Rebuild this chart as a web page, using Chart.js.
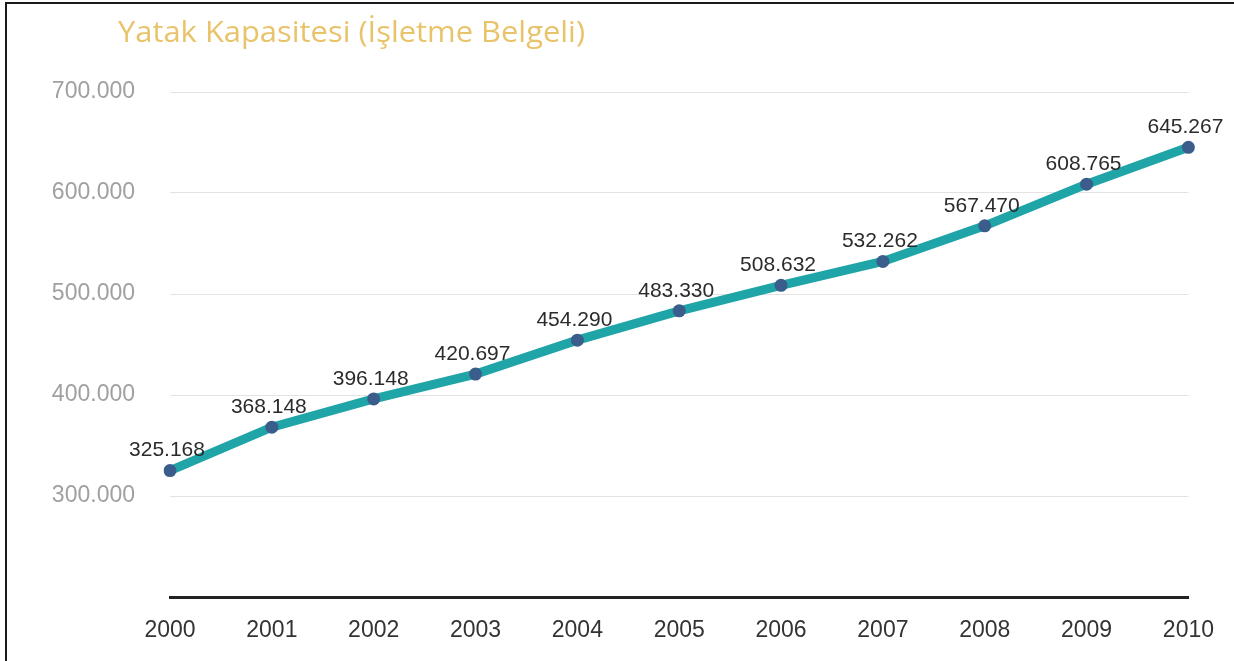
<!DOCTYPE html>
<html>
<head>
<meta charset="utf-8">
<script src="https://cdn.jsdelivr.net/npm/chart.js@4.4.1/dist/chart.umd.min.js"></script>
<style>
  html, body { margin: 0; padding: 0; background: #fff; }
  #wrap { position: relative; width: 1234px; height: 661px; overflow: hidden; }
  #frame {
    position: absolute; left: 5px; top: 2px; right: -4px; bottom: -4px;
    border-top: 2px solid #1a1a1a; border-left: 2px solid #1a1a1a;
    pointer-events: none;
  }
</style>
</head>
<body>
<div id="wrap">
  <canvas id="myChart" width="1234" height="661"></canvas>
  <div id="frame"></div>
</div>
<script>
const years = ['2000', '2001', '2002', '2003', '2004', '2005', '2006', '2007', '2008', '2009', '2010'];
const bedCapacity = [325168, 368148, 396148, 420697, 454290, 483330, 508632, 532262, 567470, 608765, 645267];
const yTicks = [200000, 300000, 400000, 500000, 600000, 700000];
const chartTitle = 'Yatak Kapasitesi (İşletme Belgeli)';

// 325168 -> "325.168"
function fmt(v) {
    return String(Math.round(v)).replace(/\B(?=(\d{3})+(?!\d))/g, '.');
}

// title sits top-left, above the y-axis labels, squeezed to a fixed width
const titlePlugin = {
    id: 'cornerTitle',
    afterDraw(chart) {
        const ctx = chart.ctx;
        ctx.save();
        ctx.font = '29px "Open Sans", sans-serif';
        ctx.fillStyle = '#e9c36a';
        ctx.textBaseline = 'alphabetic';
        const w = ctx.measureText(chartTitle).width;
        ctx.translate(118, 42);
        ctx.scale(467 / w, 1);
        ctx.fillText(chartTitle, 0, 0);
        ctx.restore();
    }
};

const valueLabels = {
    id: 'valueLabels',
    afterDatasetsDraw(chart) {
        const ctx = chart.ctx;
        const meta = chart.getDatasetMeta(0);
        ctx.save();
        ctx.font = '21px "Liberation Sans", Arial, sans-serif';
        ctx.fillStyle = '#2b2b2b';
        ctx.textAlign = 'center';
        ctx.textBaseline = 'middle';
        meta.data.forEach((pt, i) => {
            ctx.fillText(fmt(chart.data.datasets[0].data[i]), pt.x - 3, pt.y - 20);
        });
        ctx.restore();
    }
};

new Chart(document.getElementById('myChart'), {
    type: 'line',
    data: {
        labels: years,
        datasets: [{
            data: bedCapacity,
            borderColor: '#1fa4a7',
            borderWidth: 9,
            tension: 0,
            pointRadius: 6.5,
            pointBackgroundColor: '#3b5d8c',
            pointBorderColor: '#3b5d8c',
            pointBorderWidth: 0,
            fill: false
        }]
    },
    options: {
        responsive: false,
        animation: false,
        layout: { padding: { top: 92, right: 43, left: 0, bottom: 0 } },
        plugins: {
            legend: { display: false },
            tooltip: { enabled: false }
        },
        scales: {
            x: {
                offset: false,
                grid: { display: false, drawTicks: false },
                border: { color: '#222', width: 3 },
                ticks: {
                    color: '#333',
                    font: { size: 23, family: '"Liberation Sans", Arial, sans-serif' },
                    padding: 20,
                    maxRotation: 0
                },
                afterFit(s) { s.height = 64; }
            },
            y: {
                min: yTicks[0],
                max: yTicks[yTicks.length - 1],
                afterBuildTicks(s) { s.ticks = yTicks.map(v => ({ value: v })); },
                grid: {
                    drawTicks: false,
                    color: c => c.tick && c.tick.value === yTicks[0] ? 'rgba(0,0,0,0)' : '#e3e3e3',
                    lineWidth: 1
                },
                border: { display: false },
                ticks: {
                    color: '#a0a0a0',
                    font: { size: 23, family: '"Liberation Sans", Arial, sans-serif' },
                    padding: 35,
                    callback: v => v === yTicks[0] ? '' : fmt(v)
                },
                afterFit(s) { s.width = 170; }
            }
        }
    },
    plugins: [titlePlugin, valueLabels]
});
</script>
</body>
</html>
